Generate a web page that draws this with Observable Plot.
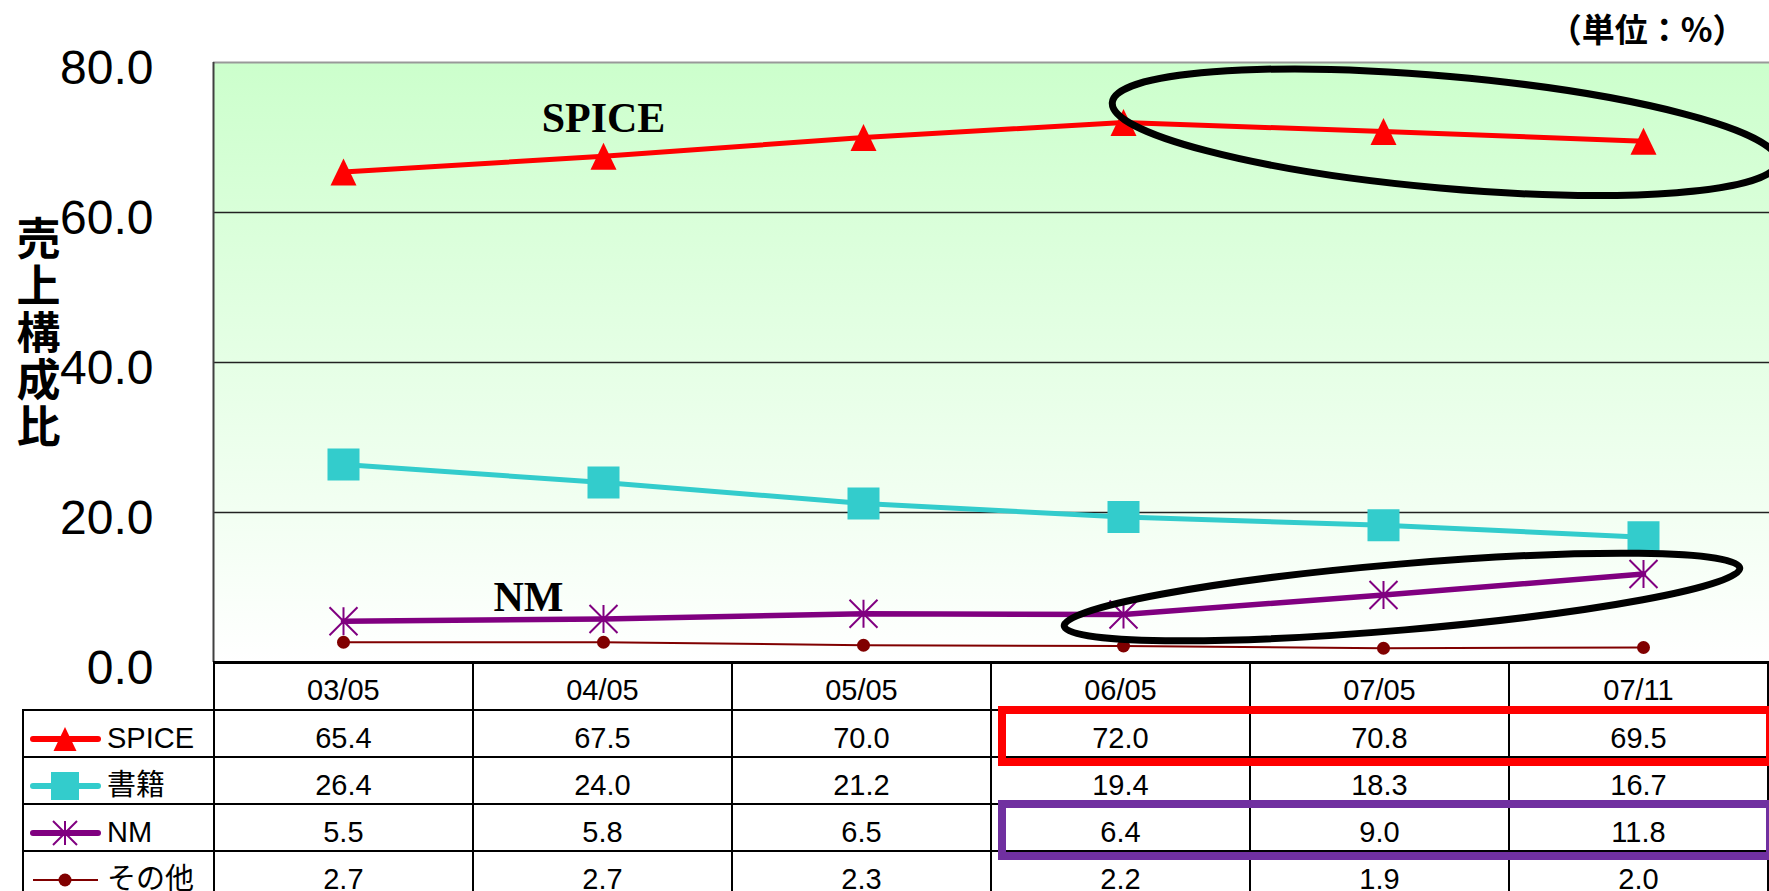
<!DOCTYPE html>
<html>
<head>
<meta charset="utf-8">
<script src="https://cdn.jsdelivr.net/npm/d3@7"></script>
<script src="https://cdn.jsdelivr.net/npm/@observablehq/plot@0.6"></script>
<style>
  html, body { margin: 0; padding: 0; background: #fff; }
  #wrap { position: relative; width: 1769px; height: 891px; overflow: hidden; background: #fff; }
  #wrap > svg { position: absolute; left: 0; top: 0; }
  #tbl { position: absolute; left: 22px; top: 661px; border-collapse: collapse; table-layout: fixed;
         font-family: "Liberation Sans", "Noto Sans CJK JP", sans-serif; font-size: 29px; color: #000; background: transparent; }
  #tbl td { border: 2px solid #000; padding: 10px 0 0 0; text-align: center; vertical-align: middle; white-space: nowrap; line-height: 1.1; }
  #tbl td.blank { border-top: none; border-left: none; }
  #tbl td.lg { text-align: left; }
  #tbl td.lg div { display: flex; align-items: center; }
  #tbl td.lg svg { flex: none; }
  .hl { position: absolute; box-sizing: border-box; border-style: solid; border-width: 8px; }
</style>
</head>
<body>
<div id="wrap"></div>
<script>
// ---------------- data ----------------
const periods = ["03/05", "04/05", "05/05", "06/05", "07/05", "07/11"];
const seriesNames = ["SPICE", "書籍", "NM", "その他"];
const spice = [65.4, 67.5, 70.0, 72.0, 70.8, 69.5];
const books = [26.4, 24.0, 21.2, 19.4, 18.3, 16.7];
const nm    = [5.5, 5.8, 6.5, 6.4, 9.0, 11.8];
const other = [2.7, 2.7, 2.3, 2.2, 1.9, 2.0];
const yTicks = [0, 20, 40, 60, 80];
const yTitle = "売上構成比";
const unitLabel = "（単位：%）";
// annotations: which series/periods are circled and boxed
const circled = [{series: "SPICE", from: 3, to: 5}, {series: "NM", from: 3, to: 5}];
const boxed = [{series: "SPICE", from: 3, to: 5}, {series: "NM", from: 3, to: 5}];
const seriesLabels = [{series: "SPICE", at: 1}, {series: "NM", at: 1}];

const seriesValues = {"SPICE": spice, "書籍": books, "NM": nm, "その他": other};

// ---------------- styles ----------------
const triangleSym = {draw(ctx, size) { const r = Math.sqrt(size / Math.PI), h = r * 1.04; ctx.moveTo(0, -h); ctx.lineTo(r, h); ctx.lineTo(-r, h); ctx.closePath(); }};
const squareSym = {draw(ctx, size) { const r = Math.sqrt(size / Math.PI); ctx.rect(-r, -r, 2 * r, 2 * r); }};
const asteriskSym = {draw(ctx, size) { const r = Math.sqrt(size / Math.PI);
  ctx.moveTo(-r, -r); ctx.lineTo(r, r); ctx.moveTo(-r, r); ctx.lineTo(r, -r); ctx.moveTo(0, -r); ctx.lineTo(0, r); }};
const circleSym = {draw(ctx, size) { const r = Math.sqrt(size / Math.PI); ctx.moveTo(r, 0); ctx.arc(0, 0, r, 0, 2 * Math.PI); }};

const seriesStyle = {
  "SPICE": {color: "#ff0000", lineWidth: 5, symbol: triangleSym, r: 13, filled: true, lgR: 11.5, lgW: 6},
  "書籍":  {color: "#33cccc", lineWidth: 5, symbol: squareSym, r: 16, filled: true, lgR: 14, lgW: 6},
  "NM":    {color: "#800080", lineWidth: 5.5, symbol: asteriskSym, r: 14, filled: false, lgR: 12, lgW: 6},
  "その他": {color: "#800000", lineWidth: 2, symbol: circleSym, r: 6.5, filled: true, lgR: 6.5, lgW: 2}
};
const ellipseStyle = {
  "SPICE": {dx: 62, dy: 1, rx: 334, ry: 56, angle: 5.1},
  "NM":    {dx: 19, dy: 3, rx: 339, ry: 33, angle: -4.9}
};
const labelStyle = {
  "SPICE": {dx: 0, dy: -38},
  "NM":    {dx: -75, dy: -21}
};
const boxColor = {"SPICE": "#ff0000", "NM": "#7030a0"};

const W = 1769, H = 891;
const plotLeft = 213, plotTop = 62, plotBottom = 662, colW = 260;
const headerH = 48, rowH = 47, labelColW = 191, tableLeft = 22;

// long table
const rows = [];
seriesNames.forEach(s => seriesValues[s].forEach((v, i) => rows.push({series: s, i, period: periods[i], value: v})));

// ---------------- custom marks ----------------
function background(index, scales) {
  const g = d3.create("svg:g");
  const grad = g.append("defs").append("linearGradient").attr("id", "bgGrad")
    .attr("x1", 0).attr("y1", 0).attr("x2", 0).attr("y2", 1);
  grad.append("stop").attr("offset", 0).attr("stop-color", "#ccffcc");
  grad.append("stop").attr("offset", 1).attr("stop-color", "#ffffff");
  const x0 = scales.x(-0.5), x1 = scales.x(periods.length - 0.5);
  const y0 = scales.y(d3.max(yTicks)), y1 = scales.y(0);
  g.append("rect").attr("x", x0).attr("y", y0).attr("width", x1 - x0).attr("height", y1 - y0)
    .attr("fill", "url(#bgGrad)");
  return g.node();
}
function ellipses(index, scales) {
  const g = d3.create("svg:g");
  for (const c of circled) {
    const st = ellipseStyle[c.series], vals = seriesValues[c.series];
    const pts = d3.range(c.from, c.to + 1).map(i => [scales.x(i), scales.y(vals[i])]);
    const cx = d3.mean(pts, p => p[0]) + st.dx, cy = d3.mean(pts, p => p[1]) + st.dy;
    g.append("ellipse").attr("cx", cx).attr("cy", cy).attr("rx", st.rx).attr("ry", st.ry)
      .attr("transform", `rotate(${st.angle},${cx},${cy})`)
      .attr("fill", "none").attr("stroke", "#000").attr("stroke-width", 7);
  }
  return g.node();
}

const marks = [background,
  Plot.ruleY([20, 40, 60], {stroke: "#222", strokeWidth: 1.3}),
  Plot.ruleY([80], {stroke: "#999", strokeWidth: 2}),
  Plot.ruleX([-0.5], {stroke: "#404040", strokeWidth: 2}),
  Plot.ruleY([0], {stroke: "#000", strokeWidth: 3})
];
for (const s of [...seriesNames].reverse()) {
  const st = seriesStyle[s];
  const data = rows.filter(d => d.series === s);
  marks.push(Plot.line(data, {x: "i", y: "value", stroke: st.color, strokeWidth: st.lineWidth}));
}
for (const s of [...seriesNames].reverse()) {
  const st = seriesStyle[s];
  const data = rows.filter(d => d.series === s);
  marks.push(Plot.dot(data, {x: "i", y: "value", symbol: st.symbol, r: st.r,
    fill: st.filled ? st.color : "none", stroke: st.color, strokeWidth: st.filled ? 0 : 2}));
}
marks.push(ellipses);
for (const l of seriesLabels) {
  const ls = labelStyle[l.series];
  marks.push(Plot.text([{i: l.at, value: seriesValues[l.series][l.at], text: l.series}], {
    x: "i", y: "value", text: "text", dx: ls.dx, dy: ls.dy,
    fontFamily: "Liberation Serif", fontWeight: "bold", fontSize: 42, fill: "#000", lineAnchor: "middle"}));
}
marks.push(Plot.text([yTitle], {text: d => d.split("").join("\n"), frameAnchor: "left", dx: -175, dy: -29,
  textAnchor: "middle", fontSize: 44, fontWeight: 700, lineHeight: 47 / 44, fontFamily: "Noto Sans CJK JP", fill: "#000"}));
marks.push(Plot.text([unitLabel], {frameAnchor: "top-right", dx: -24, dy: -31, textAnchor: "end", lineAnchor: "middle",
  fontSize: 33, fontWeight: 700, fontFamily: "Noto Sans CJK JP", fill: "#000"}));
marks.push(Plot.axisY({ticks: yTicks, tickFormat: d => d.toFixed(1), tickSize: 0, tickPadding: 60,
  fontSize: 48, dy: 6, label: null, fill: "#000"}));

const chart = Plot.plot({
  width: W, height: H,
  marginLeft: plotLeft, marginRight: 0, marginTop: plotTop, marginBottom: H - plotBottom,
  x: {type: "linear", domain: [-0.5, periods.length - 0.5], range: [plotLeft, plotLeft + colW * periods.length], axis: null},
  y: {domain: [0, d3.max(yTicks)], axis: null},
  style: {fontFamily: "Liberation Sans", background: "transparent", color: "#000"},
  marks
});
const wrap = document.getElementById("wrap");
wrap.appendChild(chart);

// ---------------- data table ----------------
function legendIcon(s) {
  const st = seriesStyle[s];
  const svg = d3.create("svg").attr("width", 80).attr("height", 32);
  svg.append("line").attr("x1", 9).attr("x2", 74).attr("y1", 16).attr("y2", 16)
    .attr("stroke", st.color).attr("stroke-width", st.lgW).attr("stroke-linecap", st.lgW > 3 ? "round" : "butt");
  svg.append("path").attr("transform", "translate(41,16)")
    .attr("d", d3.symbol().type(st.symbol).size(Math.PI * st.lgR * st.lgR)())
    .attr("fill", st.filled ? st.color : "none").attr("stroke", st.filled ? "none" : st.color).attr("stroke-width", 2);
  return svg.node();
}
const table = d3.select(wrap).append("table").attr("id", "tbl");
const cg = table.append("colgroup");
cg.append("col").style("width", labelColW + "px");
periods.forEach(() => cg.append("col").style("width", colW + "px"));
const head = table.append("tr").style("height", headerH + "px");
head.append("td").attr("class", "blank");
periods.forEach(p => head.append("td").text(p));
for (const s of seriesNames) {
  const tr = table.append("tr").style("height", rowH + "px");
  const lg = tr.append("td").attr("class", "lg").append("div");
  lg.node().appendChild(legendIcon(s));
  lg.append("span").style("margin-left", "3px").text(s);
  seriesValues[s].forEach(v => tr.append("td").text(v.toFixed(1)));
}

// highlight boxes around table cells
for (const b of boxed) {
  const r = seriesNames.indexOf(b.series);
  const rowTop = plotBottom + headerH + r * rowH;
  const left = plotLeft + b.from * colW + 5;
  const right = plotLeft + (b.to + 1) * colW + 1;
  d3.select(wrap).append("div").attr("class", "hl")
    .style("left", left + "px").style("top", (rowTop - 4) + "px")
    .style("width", (right - left) + "px").style("height", (rowH + 13) + "px")
    .style("border-color", boxColor[b.series]);
}
</script>
</body>
</html>
